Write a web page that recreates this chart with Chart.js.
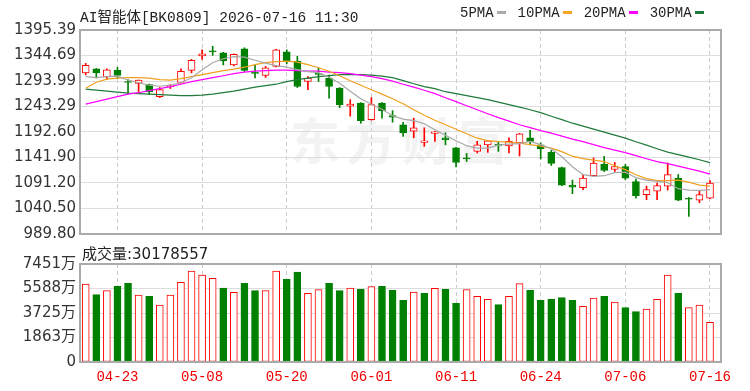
<!DOCTYPE html>
<html>
<head>
<meta charset="utf-8">
<script src="https://cdn.jsdelivr.net/npm/chart.js@4/dist/chart.umd.min.js"></script>
<style>
  body { margin: 0; background: #fff; }
  #wrap { position: relative; width: 750px; height: 391px; overflow: hidden; }
  canvas { position: absolute; left: 0; }
  #title { position: absolute; left: 80px; top: 5px; font: 14.5px "Liberation Mono", "Noto Sans CJK SC", monospace; color: #222; white-space: nowrap; }
  #legend { position: absolute; left: 460px; top: 5px; font: 14px "Liberation Mono", monospace; color: #222; white-space: nowrap; }
  #legend span.sw { display: inline-block; width: 9px; height: 3px; vertical-align: middle; margin: 0 12px 2px 3px; }
  #vol-title { position: absolute; left: 82px; top: 242px; font: 15px "DejaVu Sans", "Noto Sans CJK SC", sans-serif; color: #222; white-space: nowrap; }
  #mark { position: absolute; left: 290px; top: 102px; font: bold 50px "Noto Sans CJK SC", sans-serif; color: #f3f3f3; letter-spacing: 6px; }
</style>
</head>
<body>
<div id="wrap">
  <div id="mark">东方财富</div>
  <canvas id="k" width="750" height="250" style="top:0"></canvas>
  <canvas id="v" width="750" height="151" style="top:240px"></canvas>
  <div id="title">AI智能体[BK0809] 2026-07-16 11:30</div>
  <div id="legend">5PMA<span class="sw" style="background:#aaaaaa"></span>10PMA<span class="sw" style="background:#f5a623"></span>20PMA<span class="sw" style="background:#ff00ff"></span>30PMA<span class="sw" style="background:#1f7a3c"></span></div>
  <div id="vol-title">成交量:30178557</div>
</div>
<script>
const dates = ['04-20','04-21','04-22','04-23','04-24','04-27','04-28','04-29','04-30','05-06',
  '05-07','05-08','05-11','05-12','05-13','05-14','05-15','05-18','05-19','05-20',
  '05-21','05-22','05-25','05-26','05-27','05-28','05-29','06-01','06-02','06-03',
  '06-04','06-05','06-08','06-09','06-10','06-11','06-12','06-15','06-16','06-17',
  '06-18','06-22','06-23','06-24','06-25','06-26','06-29','06-30','07-01','07-02',
  '07-03','07-06','07-07','07-08','07-09','07-10','07-13','07-14','07-15','07-16'];
const labelIdx = [3, 11, 19, 27, 35, 43, 51, 59];

const open = [1310,1318,1302,1315,1293,1289,1287,1263,1282,1291,1315,1344,1354,1350,1326,1358,1311,1305,1323,1352,
  1333,1293,1309,1300,1280,1244,1250,1217,1250,1225,1207,1194,1172,1190,1181,1161,1141,1154,1167,1168,
  1165,1171,1181,1167,1152,1122,1087,1082,1106,1129,1118,1124,1094,1068,1075,1085,1101,1061,1057,1061];
const high = [1329,1319,1318,1321,1297,1296,1288,1281,1287,1318,1337,1356,1363,1351,1348,1360,1326,1323,1357,1356,
  1343,1303,1320,1306,1281,1257,1251,1261,1251,1235,1212,1220,1201,1194,1191,1162,1150,1174,1176,1174,
  1181,1190,1196,1171,1156,1123,1097,1108,1141,1144,1132,1128,1099,1085,1091,1131,1108,1062,1075,1096];
const low = [1306,1300,1297,1299,1269,1269,1267,1261,1279,1289,1310,1337,1345,1326,1324,1313,1300,1301,1322,1328,
  1281,1277,1293,1260,1241,1224,1210,1216,1220,1212,1184,1181,1164,1174,1167,1123,1134,1151,1152,1154,
  1151,1145,1167,1139,1126,1086,1070,1078,1106,1114,1114,1098,1061,1058,1058,1077,1056,1025,1052,1060];
const close = [1325,1310,1316,1305,1291,1296,1273,1277,1284,1313,1335,1348,1352,1334,1347,1315,1309,1320,1356,1332,
  1283,1300,1307,1283,1247,1248,1215,1247,1235,1222,1191,1201,1175,1193,1177,1132,1139,1167,1175,1166,
  1174,1189,1174,1159,1130,1087,1083,1101,1131,1116,1124,1101,1066,1078,1086,1108,1057,1059,1068,1091];

const ma5 = [1302.6,1300.6,1302.6,1303.6,1295.6,1290.6,1285.6,1283.6,1285.6,1290.6,1300.6,1316.5,1330.4,1338.3,1342.3,1341.3,1335.3,1329.4,1324.4,1321.4,
  1316.5,1312.5,1310.5,1301.6,1289.6,1273.7,1258.8,1247.9,1237.9,1225.0,1218.1,1215.1,1209.1,1197.2,1186.2,1175.3,1165.4,1160.4,1160.4,1166.4,
  1168.4,1169.4,1173.9,1167.4,1159.4,1143.5,1123.6,1107.7,1104.3,1105.7,1111.7,1112.7,1101.8,1096.8,1094.4,1091.8,1079.9,1076.9,1076.5,1077.9];
const ma10 = [1279.7,1291.6,1297.6,1299.6,1300.6,1300.6,1299.6,1296.6,1295.6,1298.6,1302.6,1306.5,1310.5,1314.5,1317.5,1321.4,1326.4,1330.4,1332.4,1333.4,
  1331.4,1326.4,1320.4,1313.5,1304.5,1294.6,1285.6,1276.7,1267.8,1258.8,1248.9,1236.9,1226.0,1216.1,1207.1,1198.2,1189.2,1180.3,1175.3,1173.3,
  1172.3,1170.4,1167.4,1164.4,1160.4,1153.5,1144.5,1139.5,1136.5,1133.6,1125.6,1117.7,1107.7,1099.8,1095.8,1095.8,1096.8,1092.8,1086.9,1084.9];
const ma20 = [1247.9,1252.9,1257.8,1262.8,1267.8,1270.7,1274.7,1278.7,1282.7,1287.6,1292.6,1296.6,1300.6,1304.5,1308.5,1311.5,1313.5,1314.5,1315.5,1315.5,
  1314.5,1313.5,1313.5,1311.5,1310.5,1308.5,1305.5,1302.6,1298.6,1293.6,1287.6,1281.7,1275.7,1268.8,1260.8,1252.9,1244.9,1236.9,1229.0,1221.1,
  1214.2,1207.1,1201.2,1195.2,1190.2,1184.3,1178.3,1173.3,1167.4,1161.4,1156.4,1151.5,1145.5,1139.5,1133.6,1129.6,1124.6,1119.7,1114.7,1108.7];
const ma30 = [1277.7,1275.7,1273.7,1271.7,1269.7,1268.8,1267.8,1266.8,1265.8,1264.8,1264.8,1265.8,1267.8,1270.7,1273.7,1277.7,1281.7,1284.7,1287.6,1292.6,
  1296.6,1299.6,1302.6,1304.5,1306.5,1306.5,1306.5,1305.5,1303.5,1300.6,1294.6,1288.6,1282.7,1278.7,1272.7,1268.8,1264.8,1260.8,1256.8,1251.9,
  1246.9,1241.9,1236.9,1231.0,1224.0,1217.1,1210.1,1204.2,1198.2,1192.2,1186.3,1180.3,1173.3,1166.4,1159.4,1152.5,1147.5,1142.5,1137.5,1131.6];

// volume in 万
const volume = [5930,5119,5423,5752,5980,5094,4992,4333,5094,6057,6918,6614,6361,5626,5296,5980,5423,5423,6918,6285,
  6842,5220,5499,5980,5423,5626,5524,5727,5752,5448,4688,5321,5220,5600,5524,4460,5499,4992,4764,4358,
  4992,5955,5448,4688,4789,4891,4688,4232,4865,4992,4561,4130,3826,4029,4764,6614,5220,4130,4333,3018];

const priceTicks = [989.80, 1040.50, 1091.20, 1141.90, 1192.60, 1243.29, 1293.99, 1344.69, 1395.39];
const volTicks = [0, 1863, 3725, 5588, 7451];

const RED = '#ff0000';
const GREEN = '#008000';
const up = close.map((c, i) => c >= open[i]);
const volUp = close.map((c, i) => i === 0 ? up[0] : c >= close[i - 1]);

Chart.defaults.font.family = '"DejaVu Sans", "Noto Sans CJK SC", sans-serif';
Chart.defaults.animation = false;

const frame = {
  id: 'frame',
  afterDraw(chart) {
    const { ctx, chartArea: a } = chart;
    ctx.save();
    ctx.strokeStyle = '#aaaaaa';
    ctx.lineWidth = 2;
    ctx.strokeRect(a.left, a.top, a.right - a.left, a.bottom - a.top);
    ctx.restore();
  }
};

function xScale(showLabels) {
  return {
    type: 'linear',
    min: -0.54,
    max: 60.04,
    offset: false,
    bounds: 'data',
    afterBuildTicks: s => { s.ticks = labelIdx.map(v => ({ value: v })); },
    afterFit: s => { s.height = showLabels ? 29 : 0; },
    grid: { color: '#cccccc', drawTicks: false, offset: false },
    border: { display: false, dash: [4, 3] },
    ticks: {
      display: showLabels,
      autoSkip: false,
      maxRotation: 0,
      padding: 7,
      color: '#ee0000',
      font: { family: '"Liberation Mono", monospace', size: 14 },
      callback: v => dates[v]
    }
  };
}

function maLine(label, values, color) {
  return {
    type: 'line',
    label,
    data: values.map((v, i) => ({ x: i, y: v })),
    borderColor: color,
    borderWidth: 1.2,
    pointRadius: 0,
    order: 1
  };
}

new Chart('k', {
  type: 'bar',
  data: {
    datasets: [
      maLine('5PMA', ma5, '#a8a8a8'),
      maLine('10PMA', ma10, '#f0a020'),
      maLine('20PMA', ma20, '#ff00ff'),
      maLine('30PMA', ma30, '#1f7a3c'),
      {
        label: 'body',
        data: dates.map((d, i) => ({ x: i, y: [open[i], close[i]] })),
        backgroundColor: up.map(u => u ? '#ffffff' : GREEN),
        borderColor: up.map(u => u ? RED : GREEN),
        borderWidth: 1,
        borderSkipped: false,
        barThickness: 7,
        grouped: false,
        order: 2
      },
      {
        label: 'wick',
        data: dates.map((d, i) => ({ x: i, y: [low[i], high[i]] })),
        backgroundColor: up.map(u => u ? RED : GREEN),
        barThickness: 1,
        grouped: false,
        order: 3
      }
    ]
  },
  options: {
    responsive: false,
    layout: { padding: { top: 30, right: 29, bottom: 16, left: 0 } },
    plugins: { legend: { display: false }, tooltip: { enabled: false } },
    scales: {
      x: xScale(false),
      y: {
        min: 989.80,
        max: 1395.39,
        afterBuildTicks: s => { s.ticks = priceTicks.map(v => ({ value: v })); },
        afterFit: s => { s.width = 80; },
        grid: { color: '#dddddd', drawTicks: false },
        border: { display: false },
        ticks: { padding: 4, color: '#333', font: { size: 15 }, callback: v => v.toFixed(2) }
      }
    }
  },
  plugins: [frame]
});

new Chart('v', {
  type: 'bar',
  data: {
    datasets: [{
      label: '成交量',
      data: volume.map((v, i) => ({ x: i, y: v })),
      backgroundColor: volUp.map(u => u ? '#ffffff' : GREEN),
      borderColor: volUp.map(u => u ? RED : GREEN),
      borderWidth: 1,
      borderSkipped: false,
      barThickness: 7,
      grouped: false
    }]
  },
  options: {
    responsive: false,
    layout: { padding: { top: 24, right: 29, bottom: 0, left: 0 } },
    plugins: { legend: { display: false }, tooltip: { enabled: false } },
    scales: {
      x: xScale(true),
      y: {
        min: 0,
        max: 7451,
        afterBuildTicks: s => { s.ticks = volTicks.map(v => ({ value: v })); },
        afterFit: s => { s.width = 80; },
        grid: { color: '#dddddd', drawTicks: false },
        border: { display: false },
        ticks: { padding: 4, color: '#333', font: { size: 15 }, callback: v => v === 0 ? '0' : v + '万' }
      }
    }
  },
  plugins: [frame]
});
</script>
</body>
</html>
